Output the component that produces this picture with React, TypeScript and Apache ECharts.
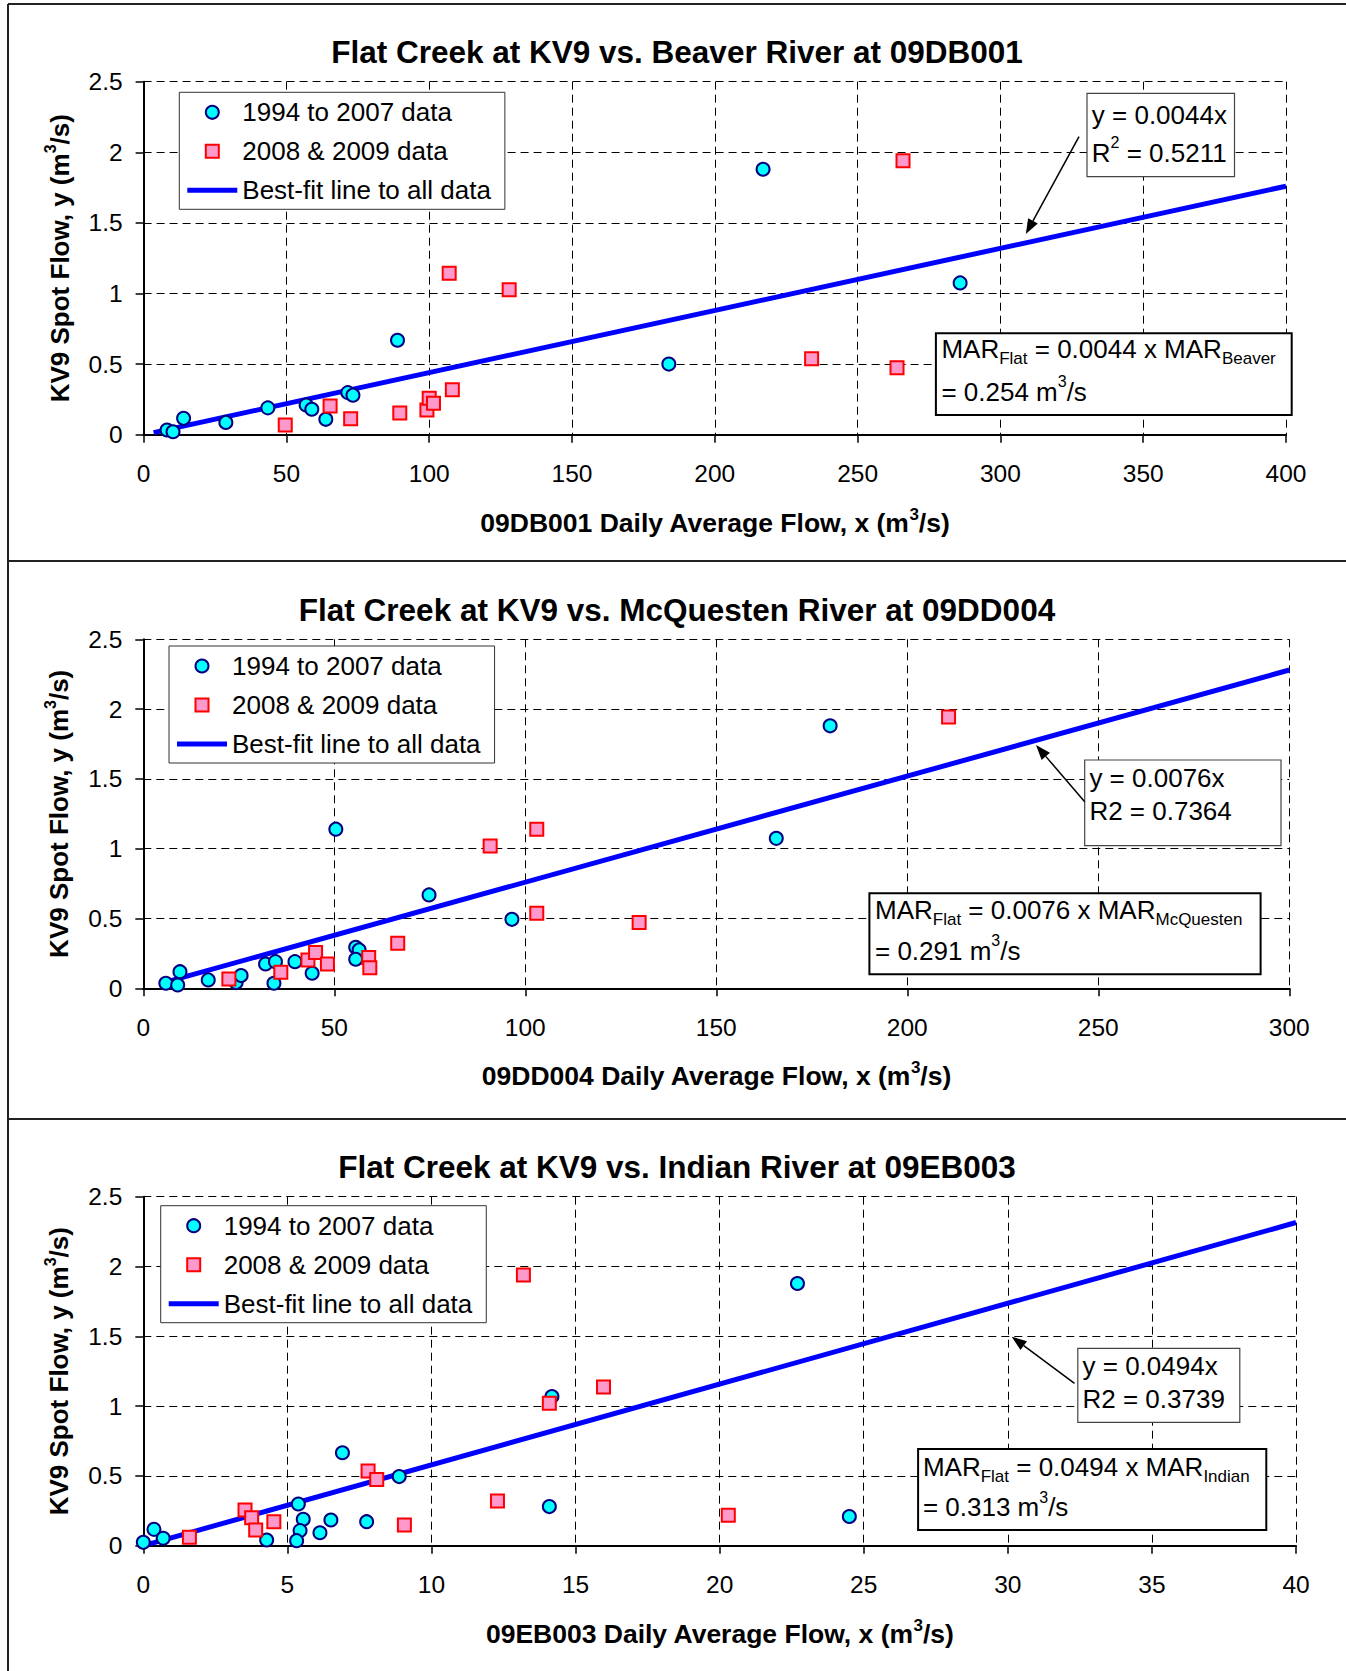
import React, { useEffect, useRef } from 'react';
import * as echarts from 'echarts';

const FONT = "Arial, 'Liberation Sans', Helvetica, sans-serif";

const OLD = '1994 to 2007 data';
const NEW = '2008 & 2009 data';
const FIT = 'Best-fit line to all data';

const chartTitles = [
  'Flat Creek at KV9 vs. Beaver River at 09DB001',
  'Flat Creek at KV9 vs. McQuesten River at 09DD004',
  'Flat Creek at KV9 vs. Indian River at 09EB003',
];
const xNames = [
  '09DB001 Daily Average Flow, x (m{p|3}/s)',
  '09DD004 Daily Average Flow, x (m{p|3}/s)',
  '09EB003 Daily Average Flow, x (m{p|3}/s)',
];
const yName = 'KV9 Spot Flow, y (m{p|3}/s)';
const xMaxes = [400, 300, 40];
const xSteps = [50, 50, 5];
const yMax = 2.5;
const yStep = 0.5;

// Panel 1: Beaver River 09DB001
const beaverOldX = [8.2, 10.3, 14.0, 28.8, 43.5, 56.9, 58.9, 63.8, 71.5, 73.3, 88.9, 183.9, 216.9, 285.9];
const beaverOldY = [0.033, 0.021, 0.116, 0.087, 0.19, 0.21, 0.18, 0.109, 0.298, 0.28, 0.669, 0.5, 1.88, 1.075];
const beaverNewX = [49.6, 65.3, 72.5, 89.7, 99.2, 100.0, 101.5, 108.1, 107.0, 128.0, 233.9, 263.8, 265.9];
const beaverNewY = [0.069, 0.203, 0.113, 0.154, 0.175, 0.258, 0.222, 0.319, 1.144, 1.026, 0.538, 0.474, 1.94];
const beaverFitX = [3.5, 400];
const beaverFitY = [0.015, 1.76];

// Panel 2: McQuesten River 09DD004
const mcqOldX = [5.9, 9.0, 9.6, 17.0, 24.3, 25.6, 32.0, 34.6, 34.2, 39.7, 44.2, 50.4, 55.6, 56.5, 55.6, 74.8, 96.5, 165.7, 179.8];
const mcqOldY = [0.036, 0.024, 0.119, 0.06, 0.041, 0.091, 0.174, 0.191, 0.036, 0.191, 0.108, 1.14, 0.294, 0.275, 0.208, 0.669, 0.494, 1.074, 1.88];
const mcqNewX = [22.4, 36.0, 43.1, 45.1, 48.2, 59.0, 59.3, 66.6, 90.8, 103.0, 103.0, 129.8, 210.8];
const mcqNewY = [0.067, 0.115, 0.203, 0.256, 0.174, 0.22, 0.148, 0.323, 1.02, 1.14, 0.538, 0.471, 1.943];
const mcqFitX = [4.2, 300];
const mcqFitY = [0.032, 2.28];

// Panel 3: Indian River 09EB003
const indOldX = [0.0, 0.37, 0.69, 4.28, 5.38, 5.55, 5.44, 5.32, 6.13, 6.51, 6.91, 7.75, 8.88, 14.18, 14.09, 22.7, 24.5];
const indOldY = [0.024, 0.117, 0.053, 0.041, 0.299, 0.189, 0.108, 0.036, 0.093, 0.184, 0.666, 0.172, 0.495, 1.068, 0.28, 1.878, 0.209];
const indNewX = [1.6, 3.53, 3.76, 3.9, 4.53, 7.8, 8.1, 9.06, 12.29, 13.19, 14.09, 15.97, 20.3];
const indNewY = [0.06, 0.256, 0.2, 0.112, 0.172, 0.535, 0.475, 0.148, 0.32, 1.94, 1.02, 1.137, 0.218];
const indFitX = [0.1, 40];
const indFitY = [0.006, 2.315];

const eqTexts = [
  ['y = 0.0044x', 'R{p|2} = 0.5211'],
  ['y = 0.0076x', 'R2 = 0.7364'],
  ['y = 0.0494x', 'R2 = 0.3739'],
];
const marTexts = [
  ['MAR{s|Flat} = 0.0044 x MAR{s|Beaver}', '= 0.254 m{p|3}/s'],
  ['MAR{s|Flat} = 0.0076 x MAR{s|McQuesten}', '= 0.291 m{p|3}/s'],
  ['MAR{s|Flat} = 0.0494 x MAR{s|Indian}', '= 0.313 m{p|3}/s'],
];

const zip = (xs: number[], ys: number[]) => xs.map((x, i) => [x, ys[i]]);

const panels = [
  { old: zip(beaverOldX, beaverOldY), neu: zip(beaverNewX, beaverNewY), fit: zip(beaverFitX, beaverFitY) },
  { old: zip(mcqOldX, mcqOldY), neu: zip(mcqNewX, mcqNewY), fit: zip(mcqFitX, mcqFitY) },
  { old: zip(indOldX, indOldY), neu: zip(indNewX, indNewY), fit: zip(indFitX, indFitY) },
];

// layout (pixels)
const grids = [
  { left: 143.6, top: 81.7, width: 1142.4, height: 353 },
  { left: 143.3, top: 639.3, width: 1146, height: 349 },
  { left: 143.3, top: 1196.7, width: 1152.7, height: 349 },
];
const titleTops = [36.5, 594.2, 1151.5];
const legendPos = [
  { left: 179.3, top: 92.3 },
  { left: 169, top: 646 },
  { left: 160.7, top: 1205.7 },
];
const eqBoxes = [
  { x: 1087, y: 93.3, w: 147.5, h: 83.4, tx: 1091.8, ty: [114.7, 152.5] },
  { x: 1084.7, y: 760, w: 196.3, h: 85.7, tx: 1089.4, ty: [778, 810.5] },
  { x: 1077.8, y: 1348.3, w: 162, h: 74, tx: 1082.5, ty: [1365.5, 1398.5] },
];
const marBoxes = [
  { x: 935.9, y: 333.3, w: 355.8, h: 81.7, tx: 941.4, ty: [348.5, 391.7] },
  { x: 869.4, y: 893.3, w: 391.2, h: 81, tx: 875, ty: [909.5, 950.8] },
  { x: 918.1, y: 1449, w: 348.2, h: 81, tx: 922.9, ty: [1466.5, 1507.2] },
];
const arrows = [
  [1079, 136.7, 1025.8, 234],
  [1084.7, 801.7, 1036, 745],
  [1074.5, 1383.3, 1011.7, 1336.7],
];

const OLD_STYLE = { color: '#00FFFF', borderColor: '#000080', borderWidth: 2, opacity: 1 };
const NEW_STYLE = { color: '#FF99CC', borderColor: '#FF0000', borderWidth: 2, opacity: 1 };
const FIT_COLOR = '#0000FF';

const richStyles = {
  s: { fontSize: 17, lineHeight: 17, verticalAlign: 'bottom', fontFamily: FONT, fill: '#000', color: '#000' },
  p: { fontSize: 16, lineHeight: 16, verticalAlign: 'top', fontFamily: FONT, fill: '#000', color: '#000' },
};

function annText(text: string, x: number, y: number) {
  return {
    type: 'text',
    x,
    y,
    z: 20,
    style: {
      text,
      fontSize: 26,
      fontFamily: FONT,
      lineHeight: 36,
      fill: '#000',
      align: 'left',
      verticalAlign: 'middle',
      rich: richStyles,
    },
  };
}

function arrowEls(x1: number, y1: number, x2: number, y2: number) {
  const dx = x2 - x1;
  const dy = y2 - y1;
  const len = Math.sqrt(dx * dx + dy * dy);
  const ux = dx / len;
  const uy = dy / len;
  const hl = 15;
  const hw = 5.5;
  const bx = x2 - ux * hl;
  const by = y2 - uy * hl;
  const px = -uy;
  const py = ux;
  return [
    { type: 'line', z: 20, shape: { x1, y1, x2: bx, y2: by }, style: { stroke: '#000', lineWidth: 1.5 } },
    {
      type: 'polygon',
      z: 20,
      shape: { points: [[x2, y2], [bx + px * hw, by + py * hw], [bx - px * hw, by - py * hw]] },
      style: { fill: '#000' },
    },
  ];
}

export default function App() {
  const ref = useRef<HTMLDivElement>(null);

  useEffect(() => {
    if (!ref.current) return;
    const chart = echarts.init(ref.current, null, { renderer: 'svg' });

    const axisLabel = { fontSize: 24.5, fontFamily: FONT, color: '#000', lineHeight: 24 };
    const splitLine = { show: true, lineStyle: { color: '#000', width: 1, type: [8, 5] } };

    const xAxis = grids.map((_, i) => ({
      type: 'value',
      gridIndex: i,
      min: 0,
      max: xMaxes[i],
      interval: xSteps[i],
      axisLine: { show: true, onZero: false, lineStyle: { color: '#000', width: 2 } },
      axisTick: { show: true, inside: false, length: 8, lineStyle: { color: '#000', width: 1.5 } },
      axisLabel: { ...axisLabel, margin: 27 },
      splitLine,
      name: xNames[i],
      nameLocation: 'middle',
      nameGap: 71,
      nameTextStyle: {
        fontSize: 26.5,
        fontWeight: 'bold',
        fontFamily: FONT,
        color: '#000',
        lineHeight: 34,
        rich: { p: { ...richStyles.p, fontSize: 17, fontWeight: 'bold' } },
      },
    }));

    const yAxis = grids.map((_, i) => ({
      type: 'value',
      gridIndex: i,
      min: 0,
      max: yMax,
      interval: yStep,
      axisLine: { show: true, onZero: false, lineStyle: { color: '#000', width: 2 } },
      axisTick: { show: true, inside: false, length: 8, lineStyle: { color: '#000', width: 1.5 } },
      axisLabel: { ...axisLabel, margin: 21 },
      splitLine,
      name: yName,
      nameLocation: 'middle',
      nameRotate: 90,
      nameGap: 67,
      nameTextStyle: {
        fontSize: 26,
        fontWeight: 'bold',
        fontFamily: FONT,
        color: '#000',
        lineHeight: 34,
        rich: { p: { ...richStyles.p, fontWeight: 'bold' } },
      },
    }));

    const series: any[] = [];
    panels.forEach((p, i) => {
      series.push({
        name: FIT,
        type: 'line',
        xAxisIndex: i,
        yAxisIndex: i,
        data: p.fit,
        symbol: 'none',
        showSymbol: false,
        lineStyle: { color: FIT_COLOR, width: 5 },
        itemStyle: { color: FIT_COLOR },
        silent: true,
        z: 2,
      });
      series.push({
        name: OLD,
        type: 'scatter',
        xAxisIndex: i,
        yAxisIndex: i,
        data: p.old,
        symbol: 'circle',
        symbolSize: 13,
        itemStyle: OLD_STYLE,
        z: 3,
      });
      series.push({
        name: NEW,
        type: 'scatter',
        xAxisIndex: i,
        yAxisIndex: i,
        data: p.neu,
        symbol: 'rect',
        symbolSize: 13,
        itemStyle: NEW_STYLE,
        z: 3,
      });
    });

    const legend = legendPos.map((pos) => ({
      data: [
        { name: OLD, icon: 'circle', itemStyle: OLD_STYLE },
        { name: NEW, icon: 'path://M0 0H10V10H0Z', itemStyle: NEW_STYLE },
        { name: FIT, icon: 'path://M0 0H50V5H0Z', itemStyle: { color: FIT_COLOR, borderWidth: 0 } },
      ],
      orient: 'vertical',
      left: pos.left,
      top: pos.top,
      itemWidth: 50,
      itemHeight: 13,
      itemGap: 13,
      padding: [7, 14, 6, 8],
      borderColor: '#333',
      borderWidth: 1,
      backgroundColor: '#fff',
      selectedMode: false,
      symbolKeepAspect: true,
      textStyle: { fontSize: 26, lineHeight: 26, color: '#000', fontFamily: FONT },
      z: 10,
    }));

    const title = chartTitles.map((t, i) => ({
      text: t,
      left: 677,
      top: titleTops[i],
      textAlign: 'center',
      padding: 0,
      textStyle: { fontSize: 31.5, lineHeight: 31, fontWeight: 'bold', fontFamily: FONT, color: '#000' },
    }));

    const graphic: any[] = [
      { type: 'line', shape: { x1: 8, y1: 4, x2: 1346, y2: 4 }, style: { stroke: '#222', lineWidth: 2 } },
      { type: 'line', shape: { x1: 8, y1: 4, x2: 8, y2: 1671 }, style: { stroke: '#222', lineWidth: 2 } },
      { type: 'line', shape: { x1: 8, y1: 561, x2: 1346, y2: 561 }, style: { stroke: '#222', lineWidth: 2 } },
      { type: 'line', shape: { x1: 8, y1: 1119, x2: 1346, y2: 1119 }, style: { stroke: '#222', lineWidth: 2 } },
    ];
    eqBoxes.forEach((b, i) => {
      graphic.push({
        type: 'rect',
        z: 19,
        shape: { x: b.x, y: b.y, width: b.w, height: b.h },
        style: { fill: '#fff', stroke: '#444', lineWidth: 1.2 },
      });
      graphic.push(annText(eqTexts[i][0], b.tx, b.ty[0]));
      graphic.push(annText(eqTexts[i][1], b.tx, b.ty[1]));
    });
    marBoxes.forEach((b, i) => {
      graphic.push({
        type: 'rect',
        z: 19,
        shape: { x: b.x, y: b.y, width: b.w, height: b.h },
        style: { fill: '#fff', stroke: '#000', lineWidth: 2 },
      });
      graphic.push(annText(marTexts[i][0], b.tx, b.ty[0]));
      graphic.push(annText(marTexts[i][1], b.tx, b.ty[1]));
    });
    arrows.forEach((a) => {
      arrowEls(a[0], a[1], a[2], a[3]).forEach((e) => graphic.push(e));
    });

    chart.setOption({
      animation: false,
      backgroundColor: '#fff',
      textStyle: { fontFamily: FONT },
      title,
      legend,
      grid: grids.map((g) => ({ ...g, containLabel: false })),
      xAxis,
      yAxis,
      series,
      graphic,
    });

    return () => {
      chart.dispose();
    };
  }, []);

  return (
    <div
      ref={ref}
      style={{ position: 'absolute', left: 0, top: 0, width: 1346, height: 1671, background: '#fff' }}
    />
  );
}
